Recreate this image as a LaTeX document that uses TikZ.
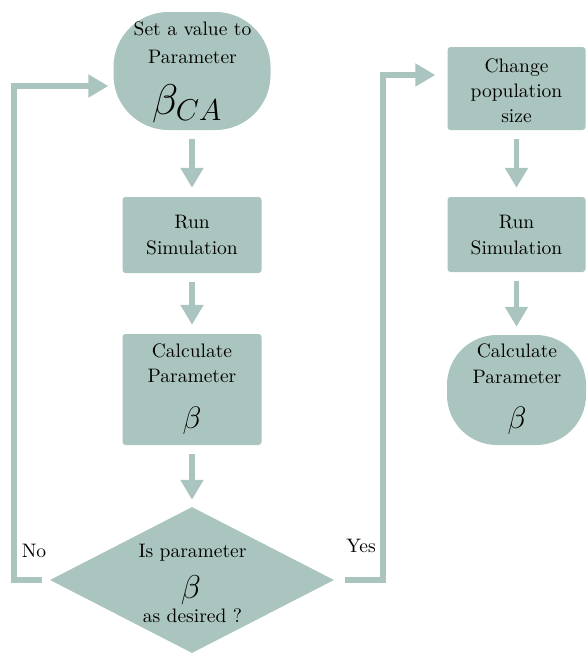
\RequirePackage{fix-cm}
\documentclass[tikz,border=0pt]{standalone}
\usetikzlibrary{arrows.meta,shapes.geometric}
\definecolor{sage}{RGB}{170,196,191}
\DeclareFontFamily{TU}{lmten}{}
\DeclareFontShape{TU}{lmten}{m}{n}{<-> "[lmroman10-regular]:+tlig;"}{}
\begin{document}
\begin{tikzpicture}[x=1pt,y=-1pt,
  shapebox/.style={fill=sage, draw=none, inner sep=0pt},
  rbox/.style={shapebox, rectangle, rounded corners=3pt},
  lbl/.style={font=\fontfamily{lmten}\fontsize{19.5}{24}\selectfont, anchor=base, inner sep=0pt, text=black},
  flow/.style={draw=sage, line width=5.5pt, -{Triangle[width=22pt,length=20pt]}, shorten <=9pt, shorten >=9pt},
]
\useasboundingbox (0,0) rectangle (587,657);

% shapes
\node[shapebox, rectangle, rounded corners=55pt, minimum width=157pt, minimum height=118pt] (set) at (192,71) {};
\node[rbox, minimum width=139pt, minimum height=76pt] (run1) at (192,235) {};
\node[rbox, minimum width=139pt, minimum height=111pt] (calc1) at (192,389.5) {};
\node[shapebox, diamond, minimum width=284pt, minimum height=146pt] (dia) at (192,580) {};
\node[rbox, minimum width=138pt, minimum height=83pt] (change) at (516.5,88.5) {};
\node[rbox, minimum width=138pt, minimum height=75pt] (run2) at (516.5,234.5) {};
\node[shapebox, rectangle, rounded corners=50pt, minimum width=139pt, minimum height=110pt] (calc2) at (516.5,390) {};

% texts
\node[lbl] (t1) at (192.5,35) {Set a value to};
\node[lbl] (t2) at (192.5,63) {Parameter};
\node[lbl, font=\fontsize{43}{43}\selectfont] (t3) at (187,114) {$\beta_{CA}$};

\node[lbl] (t4) at (192,228) {Run};
\node[lbl] (t5) at (192,254) {Simulation};

\node[lbl] (t6) at (192,357) {Calculate};
\node[lbl] (t7) at (192,382) {Parameter};
\node[lbl, font=\fontsize{31}{31}\selectfont] (t8) at (192,428) {$\beta$};

\node[lbl] (t9) at (192.5,557) {Is parameter};
\node[lbl, font=\fontsize{33}{33}\selectfont] (t10) at (191,598) {$\beta$};
\node[lbl] (t11) at (192.5,622) {as desired ?};

\node[lbl] (t12) at (516.5,72) {Change};
\node[lbl] (t13) at (516.5,97) {population};
\node[lbl] (t14) at (516.5,122) {size};

\node[lbl] (t15) at (516.5,228) {Run};
\node[lbl] (t16) at (516.5,254) {Simulation};

\node[lbl] (t17) at (517,357) {Calculate};
\node[lbl] (t18) at (517,383) {Parameter};
\node[lbl, font=\fontsize{31}{31}\selectfont] (t19) at (517,428) {$\beta$};

\node[lbl] (no) at (34,557) {No};
\node[lbl] (yes) at (361,552) {Yes};

% connectors
\draw[flow] (set.south) -- (run1.north);
\draw[flow] (run1) -- (calc1);
\draw[flow, shorten >=7pt] (calc1) -- (dia.north);
\draw[flow] (change) -- (run2);
\draw[flow, shorten >=8pt] (run2) -- (calc2.north);

\coordinate (nocorner) at (14,580);
\coordinate (yescorner) at (383,580);
\draw[flow, shorten <=8pt, shorten >=5pt] (dia.west) -- (nocorner) |- (set.west |- 0,86);
\draw[flow, shorten <=11pt, shorten >=12pt] (dia.east) -- (yescorner) |- (change.west |- 0,75);
\end{tikzpicture}
\end{document}
